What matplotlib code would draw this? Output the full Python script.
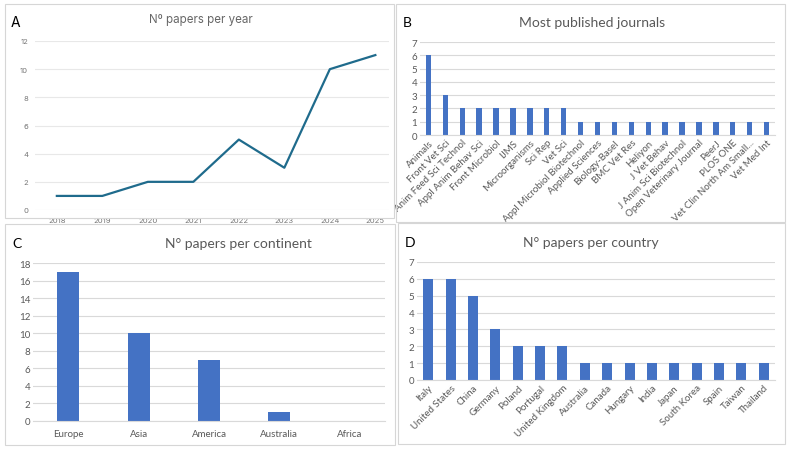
import matplotlib.pyplot as plt
from matplotlib.patches import Rectangle

# data
years = ['2018', '2019', '2020', '2021', '2022', '2023', '2024', '2025']
papers_per_year = [1, 1, 2, 2, 5, 3, 10, 11]

journals = ['Animals', 'Front Vet Sci', 'Anim Feed Sci Technol', 'Appl Anim Behav Sci',
            'Front Microbiol', 'IJMS', 'Microorganisms', 'Sci Rep', 'Vet Sci',
            'Appl Microbiol Biotechnol', 'Applied Sciences', 'Biology-Basel', 'BMC Vet Res',
            'Heliyon', 'J Vet Behav', 'J Anim Sci Biotechnol', 'Open Veterinary Journal',
            'PeerJ', 'PLOS ONE', 'Vet Clin North Am Small...', 'Vet Med Int']
journal_counts = [6, 3, 2, 2, 2, 2, 2, 2, 2, 1, 1, 1, 1, 1, 1, 1, 1, 1, 1, 1, 1]

continents = ['Europe', 'Asia', 'America', 'Australia', 'Africa']
continent_counts = [17, 10, 7, 1, 0]

countries = ['Italy', 'United States', 'China', 'Germany', 'Poland', 'Portugal',
             'United Kingdom', 'Australia', 'Canada', 'Hungary', 'India', 'Japan',
             'South Korea', 'Spain', 'Taiwan', 'Thailand']
country_counts = [6, 6, 5, 3, 2, 2, 2, 1, 1, 1, 1, 1, 1, 1, 1, 1]

W, H = 794, 452
BAR = '#4472C4'
GREY_TXT = '#595959'
GRID = '#d9d9d9'

fig = plt.figure(figsize=(W / 100, H / 100), dpi=100)


def px_axes(x0, y0, x1, y1):
    return fig.add_axes([x0 / W, 1 - y1 / H, (x1 - x0) / W, (y1 - y0) / H])


def px_text(x, y, s, **kw):
    fig.text(x / W, 1 - y / H, s, **kw)


def px_box(x0, y0, x1, y1):
    fig.patches.append(Rectangle((x0 / W, 1 - y1 / H), (x1 - x0) / W, (y1 - y0) / H,
                                 transform=fig.transFigure, fill=False,
                                 edgecolor='#d6d6d6', linewidth=0.8))


# panel borders
px_box(5, 5, 394, 219)
px_box(396, 5, 785, 223)
px_box(5, 225, 395, 446)
px_box(398, 224, 785, 445)


def bar_style(ax, ymax, step, fs):
    ax.set_ylim(0, ymax)
    ax.set_yticks(range(0, ymax + 1, step))
    ax.grid(axis='y', color=GRID, linewidth=0.8)
    ax.set_axisbelow(True)
    for s in ['top', 'right', 'left']:
        ax.spines[s].set_visible(False)
    ax.spines['bottom'].set_color(GRID)
    ax.tick_params(axis='both', length=0, labelsize=fs, colors=GREY_TXT, pad=2)
    for lab in ax.get_yticklabels() + ax.get_xticklabels():
        lab.set_family('Lato')


# A: line chart
axA = px_axes(35, 42, 389, 211)
axA.plot(range(len(years)), papers_per_year, color='#1f6b8c', linewidth=1.6)
axA.set_xlim(-0.48, 7.3)
axA.set_ylim(0, 12)
axA.set_yticks(range(0, 13, 2))
axA.set_xticks(range(len(years)))
axA.set_xticklabels(years)
axA.grid(axis='y', color='#e8e8e8', linewidth=0.8)
axA.set_axisbelow(True)
for s in axA.spines.values():
    s.set_visible(False)
axA.tick_params(axis='both', length=0, labelsize=5.5, colors='#777777', pad=5)
for lab in axA.get_yticklabels() + axA.get_xticklabels():
    lab.set_family('Inter')
px_text(201, 20, 'Nº papers per year', ha='center', va='center', fontsize=8.3,
        color='#666666', family='Inter')
px_text(15, 23, 'A', ha='center', va='center', fontsize=10, family='Inter')

# B: journals
axB = px_axes(420, 43, 775, 136)
axB.bar(range(len(journals)), journal_counts, width=0.32, color=BAR)
axB.set_xlim(-0.5, len(journals) - 0.5)
axB.set_xticks(range(len(journals)))
axB.set_xticklabels(journals, rotation=45, ha='right', rotation_mode='anchor')
bar_style(axB, 7, 1, 7)
px_text(592, 23, 'Most published journals', ha='center', va='center', fontsize=10,
        color=GREY_TXT, family='Lato')
px_text(407, 23, 'B', ha='center', va='center', fontsize=10, family='Lato')

# C: continents
axC = px_axes(33, 264, 385, 422)
axC.bar(range(len(continents)), continent_counts, width=0.31, color=BAR)
axC.set_xlim(-0.5, len(continents) - 0.5)
axC.set_xticks(range(len(continents)))
axC.set_xticklabels(continents)
bar_style(axC, 18, 2, 7)
axC.tick_params(axis='x', pad=6)
px_text(238, 244, 'N° papers per continent', ha='center', va='center', fontsize=10,
        color=GREY_TXT, family='Lato')
px_text(17, 244, 'C', ha='center', va='center', fontsize=10, family='Lato')

# D: countries
axD = px_axes(417, 263, 775, 381)
axD.bar(range(len(countries)), country_counts, width=0.45, color=BAR)
axD.set_xlim(-0.5, len(countries) - 0.5)
axD.set_xticks(range(len(countries)))
axD.set_xticklabels(countries, rotation=45, ha='right', rotation_mode='anchor')
bar_style(axD, 7, 1, 7)
px_text(591, 243, 'N° papers per country', ha='center', va='center', fontsize=10,
        color=GREY_TXT, family='Lato')
px_text(410, 243, 'D', ha='center', va='center', fontsize=10, family='Lato')

fig.savefig('out.png', dpi=100)
